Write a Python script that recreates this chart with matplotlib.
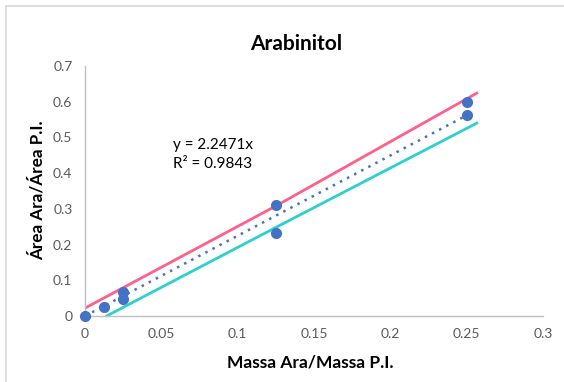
import numpy as np
import matplotlib
matplotlib.use("Agg")
import matplotlib.pyplot as plt
from matplotlib.patches import Rectangle

plt.rcParams['font.family'] = ['Lato', 'DejaVu Sans']

# pontos experimentais
massa = [0, 0.0125, 0.025, 0.025, 0.125, 0.125, 0.25, 0.25]
area = [0, 0.025, 0.067, 0.048, 0.311, 0.232, 0.600, 0.563]

# linha de tendência (passa pela origem)
slope = 2.2471
r2 = 0.9843
trend_x = [0, 0.25]

# linhas de limite
upper_x = [0, 0.125, 0.2566]
upper_y = [0.022, 0.308, 0.624]
lower_x = [0.0142, 0.125, 0.2566]
lower_y = [0.0, 0.248, 0.540]

fig = plt.figure(figsize=(5.64, 3.82), dpi=100)
ax = fig.add_axes([0.1507, 0.1728, 0.8121, 0.6544])

fig.patches.append(Rectangle((6 / 564, -0.1), 1.0, 1 - 6 / 382 + 0.1,
                             transform=fig.transFigure, fill=False,
                             edgecolor='#d9d9d9', lw=1.2))

ax.plot(upper_x, upper_y, color='#ff5f8c', lw=2.0, zorder=2)
ax.plot(lower_x, lower_y, color='#2ecfcf', lw=2.0, zorder=2)
tx = np.array(trend_x)
ax.plot(tx, slope * tx, color='#4472c4', lw=1.8, ls=(0, (1, 2.2)), zorder=3)
ax.plot(massa, area, 'o', color='#4472c4', ms=7, zorder=4, clip_on=False)

ax.set_xlim(0, 0.3)
ax.set_ylim(0, 0.7)
ax.set_xticks([0, 0.05, 0.1, 0.15, 0.2, 0.25, 0.3])
ax.set_xticklabels(['0', '0.05', '0.1', '0.15', '0.2', '0.25', '0.3'])
ax.set_yticks([0, 0.1, 0.2, 0.3, 0.4, 0.5, 0.6, 0.7])
ax.set_yticklabels(['0', '0.1', '0.2', '0.3', '0.4', '0.5', '0.6', '0.7'])
ax.tick_params(length=0, labelsize=10, labelcolor='#595959', pad=9)

for s in ['top', 'right']:
    ax.spines[s].set_visible(False)
for s in ['left', 'bottom']:
    ax.spines[s].set_color('#bfbfbf')
    ax.spines[s].set_linewidth(1.0)

fig.text(296 / 564, 1 - 44 / 382, 'Arabinitol', fontsize=15, fontweight='bold',
         ha='center', va='center')
ax.set_xlabel('Massa Ara/Massa P.I.', fontsize=12.5, fontweight='bold', va='center')
ax.xaxis.set_label_coords(0.491, -0.188)
ax.set_ylabel('Área Ara/Área P.I.', fontsize=12.3, fontweight='bold', va='center')
ax.yaxis.set_label_coords(-0.105, 0.504)

ax.text(0.0575, 0.405, f'y = {slope}x\nR² = {r2}', fontsize=11,
        linespacing=1.5, va='bottom', ha='left')

fig.savefig('out.png', dpi=100)
